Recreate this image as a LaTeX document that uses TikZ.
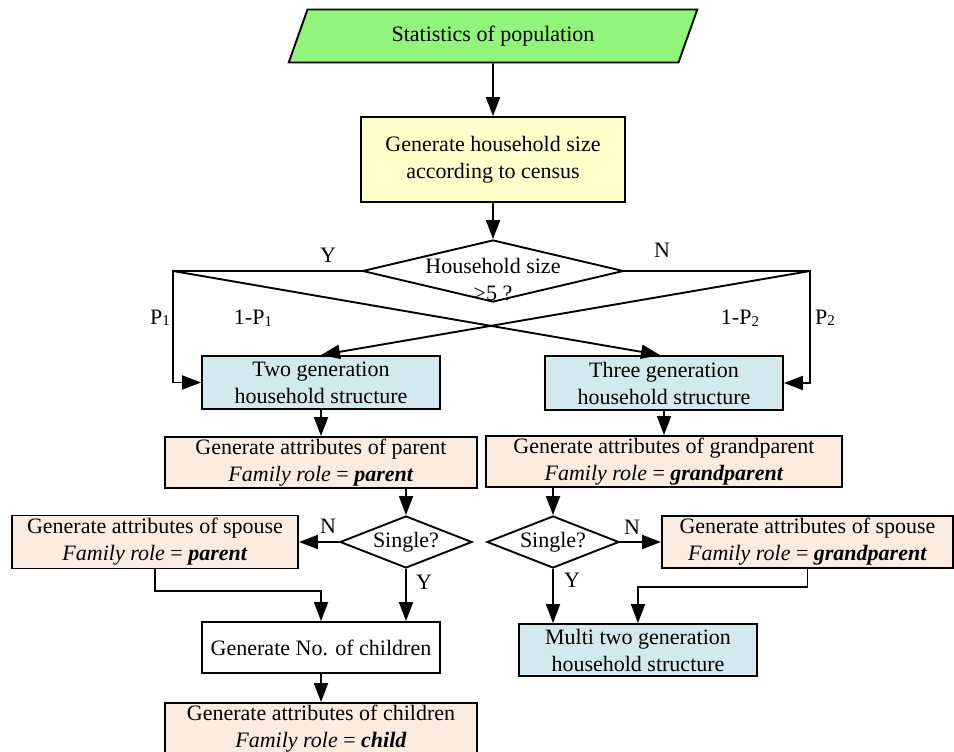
\documentclass[tikz,border=0pt]{standalone}
\usepackage{fontspec}
\setmainfont{Liberation Serif}
\usetikzlibrary{shapes.geometric,arrows.meta,calc}
\definecolor{popgreen}{RGB}{144,245,122}
\definecolor{sizeyellow}{RGB}{255,255,204}
\definecolor{hhblue}{RGB}{209,233,239}
\definecolor{attpeach}{RGB}{252,235,223}
\newcommand{\sub}[1]{\raisebox{-0.15ex}{\fontsize{15}{15}\selectfont #1}}
\tikzset{
  every node/.style = {font=\fontsize{22}{27}\selectfont},
  box/.style = {draw,line width=1.9pt,inner sep=0pt,align=center},
  decision/.style = {draw,line width=1.9pt,fill=white,shape=diamond,inner sep=0pt,aspect=2.5},
  para/.style = {draw,line width=1.9pt,fill=popgreen,shape=trapezium,
    trapezium left angle=63,trapezium right angle=117,trapezium stretches=true,inner sep=0pt}
}
\tikzset{>={Triangle[length=19pt,width=14pt]}}

\begin{document}
\begin{tikzpicture}[x=1pt,y=-1pt,line width=1.9pt]
  \useasboundingbox (0,0) rectangle (954,752);
  % top
  \node[para,minimum width=409,minimum height=53] (pop) at (493,36) {Statistics of population};
  \node[box,fill=sizeyellow,minimum width=264,minimum height=85] (gen) at (493,159.5) {Generate household size\\according to census};
  \node[decision,minimum width=261,minimum height=62] (size) at (493,271) {};
  \node[align=center,inner sep=0pt] (sizetxt) at (493,280) {Household size\\>5 ?};
  \draw[->] (pop.south) -- (gen.north);
  \draw[->] (gen.south) -- (size.north);
  % households
  \node[box,fill=hhblue,minimum width=238,minimum height=53] (two) at (321,382.5) {Two generation\\household structure};
  \node[box,fill=hhblue,minimum width=238,minimum height=54] (three) at (664,383) {Three generation\\household structure};
  \coordinate (yl) at (173,271);
  \coordinate (nr) at (810,271);
  \draw[->] (size.west) -- (yl) |- (two.west);
  \draw[->] (size.east) -- (nr) |- (three.east);
  \draw[->] (yl) -- ($(three.north)+(-4,0)$);
  \draw[->] (nr) -- (two.north);
  \node (ylab) at (328,255) {Y};
  \node (nlab) at (662,250) {N};
  \node (pa) at (160,318) {P\sub{1}};
  \node (pb) at (253,318) {1-P\sub{1}};
  \node (pc) at (740,318) {1-P\sub{2}};
  \node (pd) at (825,318) {P\sub{2}};
  % two generation branch
  \node[box,fill=attpeach,minimum width=312,minimum height=51] (par) at (321,462.5) {Generate attributes of parent\\\textit{Family role} = \textbf{\textit{parent}}};
  \node[decision,minimum width=132,minimum height=52] (sgl) at (406,542) {Single?};
  \node[box,fill=attpeach,minimum width=286,minimum height=53] (sp) at (155,542) {Generate attributes of spouse\\\textit{Family role} = \textbf{\textit{parent}}};
  \node[box,fill=white,minimum width=238,minimum height=51] (noc) at (321,647.5) {Generate No. of children};
  \node[box,fill=attpeach,minimum width=312,minimum height=52] (chd) at (321,729) {Generate attributes of children\\\textit{Family role} = \textbf{\textit{child}}};
  \draw[->] (two.south) -- (par.north);
  \draw[->] (par.south -| sgl.north) -- (sgl.north);
  \draw[->] (sgl.west) -- (sp.east);
  \draw[->] (sgl.south) -- (sgl.south |- noc.north);
  \draw[->] (sp.south) |- ($(noc.north)+(0,-30)$) -- (noc.north);
  \draw[->] (noc.south) -- (chd.north);
  \node (n1) at (328,526) {N};
  \node (y1) at (424,582) {Y};
  % three generation branch
  \node[box,fill=attpeach,minimum width=356,minimum height=51] (gpar) at (664,461.5) {Generate attributes of grandparent\\\textit{Family role} = \textbf{\textit{grandparent}}};
  \node[decision,minimum width=132,minimum height=52] (sgr) at (553,542) {Single?};
  \node[box,fill=attpeach,minimum width=291,minimum height=52] (spr) at (807.5,542) {Generate attributes of spouse\\\textit{Family role} = \textbf{\textit{grandparent}}};
  \node[box,fill=hhblue,minimum width=238,minimum height=52] (mul) at (638,650) {Multi two generation\\household structure};
  \draw[->] (three.south) -- (gpar.north);
  \draw[->] (gpar.south -| sgr.north) -- (sgr.north);
  \draw[->] (sgr.east) -- (spr.west);
  \draw[->] (sgr.south) -- (sgr.south |- mul.north);
  \draw[->] (spr.south) |- ($(mul.north)+(0,-36)$) -- (mul.north);
  \node (n2) at (632,527) {N};
  \node (y2) at (572,580) {Y};
\end{tikzpicture}
\end{document}
